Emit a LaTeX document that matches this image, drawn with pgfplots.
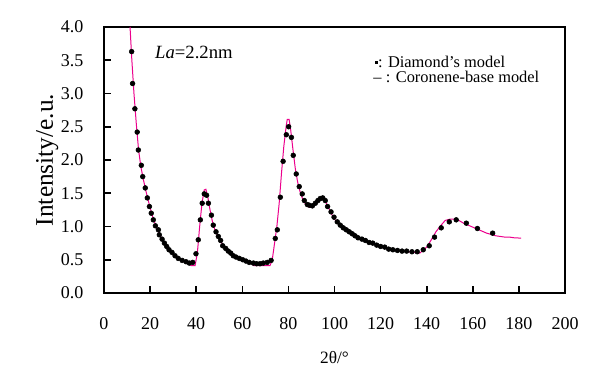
\documentclass[border=0pt]{standalone}
\usepackage{fontspec}
\setmainfont{Liberation Serif}
\usepackage{pgfplots}
\pgfplotsset{compat=1.18}
\begin{document}
\begin{tikzpicture}
\useasboundingbox (-78pt,-60pt) rectangle (363.75pt,219.75pt);
\begin{axis}[
  scale only axis, width=345.75pt, height=199.5pt,
  xmin=0, xmax=200, ymin=0, ymax=4,
  xtick distance=20, ytick distance=0.5,
  tick pos=left, tick align=inside,
  major tick length=5.5pt,
  axis line style={line width=1.5pt},
  every tick/.style={black, line width=1.2pt},
  /pgf/number format/assume math mode=true,
  yticklabel style={/pgf/number format/fixed, /pgf/number format/fixed zerofill, /pgf/number format/precision=1, xshift=-12pt},
  ticklabel style={font=\fontsize{13.5}{15}\selectfont},
  xticklabel style={yshift=-15pt},
  xlabel={2θ/°}, ylabel={Intensity/e.u.},
  xlabel style={font=\fontsize{13}{15}\selectfont, yshift=-9.5pt},
  ylabel style={font=\fontsize{19}{22}\selectfont, yshift=-5pt},
  clip=false,
]
\addplot[magenta, line width=0.75pt] coordinates {
(11.3,4.0)(12,3.55)(13,3.0)(14,2.55)(15,2.15)(16,1.9)(17,1.72)(18,1.56)(19,1.42)(20,1.28)(21,1.16)(22,1.06)(23,0.97)(24,0.89)(25,0.82)(26,0.76)(27,0.71)(28,0.66)(29,0.62)(30,0.58)(32,0.52)(34,0.48)(36,0.45)(37,0.43)(38,0.41)(39.5,0.41)(40.5,0.6)(41.5,1.0)(42.5,1.35)(43.5,1.55)(44.2,1.56)(45,1.45)(46,1.25)(47,1.08)(48,0.96)(49,0.88)(50,0.81)(52,0.70)(54,0.63)(56,0.57)(58,0.53)(60,0.50)(62,0.47)(64,0.44)(65,0.41)(72,0.41)(73,0.5)(74,0.75)(75,1.0)(76,1.35)(77,1.8)(78,2.2)(79,2.5)(79.5,2.61)(80.3,2.61)(81,2.45)(82,2.15)(83,1.87)(84,1.67)(85,1.53)(86,1.43)(87,1.36)(88,1.31)(89,1.29)(90,1.29)(91,1.32)(92,1.37)(93,1.41)(94,1.43)(95,1.42)(96,1.38)(97,1.31)(98,1.24)(99,1.17)(100,1.11)(102,1.03)(104,0.97)(106,0.92)(108,0.88)(110,0.84)(112,0.81)(114,0.78)(116,0.75)(118,0.72)(120,0.70)(122,0.68)(124,0.66)(126,0.65)(128,0.64)(130,0.63)(132,0.62)(134,0.61)(136,0.61)(137,0.6)(138,0.63)(140,0.69)(142,0.8)(144,0.92)(146,1.01)(148,1.09)(150,1.11)(152,1.11)(154,1.09)(156,1.05)(158,1.02)(160,0.99)(162,0.96)(164,0.93)(166,0.90)(168,0.88)(170,0.86)(172,0.85)(174,0.84)(176,0.84)(178,0.83)(181,0.825)
};
\addplot[only marks, mark=*, mark size=1.8pt, black] coordinates {
(12.0,3.63)(12.4,3.15)(13.4,2.77)(14.4,2.42)(14.9,2.15)(16.2,1.92)(16.8,1.75)(17.9,1.58)(18.8,1.43)(19.7,1.30)(20.5,1.20)(21.4,1.10)(22.3,1.01)(23.6,0.95)(24.0,0.875)(25.2,0.81)(26.2,0.75)(27.2,0.70)(28.2,0.65)(29.5,0.61)(30.8,0.56)(32.2,0.52)(33.9,0.49)(35.6,0.47)(37.0,0.45)(38.5,0.46)(39.9,0.59)(40.9,0.80)(41.8,1.10)(42.6,1.35)(43.5,1.49)(44.5,1.47)(45.3,1.35)(46.6,1.17)(47.4,1.02)(48.6,0.92)(49.6,0.85)(50.6,0.79)(51.5,0.71)(52.8,0.67)(53.9,0.63)(55.0,0.60)(56.1,0.56)(57.3,0.54)(58.7,0.52)(60.2,0.50)(61.6,0.48)(63.0,0.46)(64.8,0.45)(66.2,0.44)(67.7,0.44)(69.1,0.45)(70.8,0.46)(72.5,0.49)(74.3,0.82)(75.2,0.95)(76.5,1.44)(77.7,1.98)(79.1,2.38)(80.1,2.50)(81.3,2.34)(82.1,2.07)(83.4,1.79)(84.7,1.60)(86.0,1.49)(86.9,1.39)(88.2,1.33)(89.1,1.32)(90.4,1.31)(91.7,1.35)(92.8,1.39)(93.8,1.42)(94.9,1.43)(96.0,1.39)(97.0,1.30)(98.5,1.22)(99.8,1.14)(101.2,1.07)(102.5,1.02)(103.8,0.98)(105.1,0.95)(106.4,0.92)(107.7,0.89)(108.9,0.86)(110.2,0.83)(111.9,0.81)(113.4,0.79)(115.0,0.76)(116.6,0.75)(118.3,0.72)(120.0,0.70)(121.8,0.69)(123.5,0.66)(125.3,0.65)(127.3,0.64)(129.3,0.63)(131.3,0.63)(133.6,0.62)(135.9,0.62)(138.5,0.65)(141.1,0.71)(143.4,0.84)(146.3,0.98)(149.8,1.07)(152.8,1.10)(157.2,1.05)(162.0,0.97)(168.6,0.90)
};
\node[anchor=west, font=\fontsize{14}{16}\selectfont, inner sep=0pt] at (axis cs:22.1,3.62) {\textit{La}=2.2nm};
\node[anchor=west, font=\fontsize{12.3}{14}\selectfont, inner sep=0pt] at (axis cs:117.6,3.47) {\raisebox{0.55ex}{\rule{2pt}{2pt}}: Diamond’s model};
\node[anchor=west, font=\fontsize{12.3}{14}\selectfont, inner sep=0pt] at (axis cs:116.8,3.25) {– : Coronene-base model};
\end{axis}
\end{tikzpicture}
\end{document}
